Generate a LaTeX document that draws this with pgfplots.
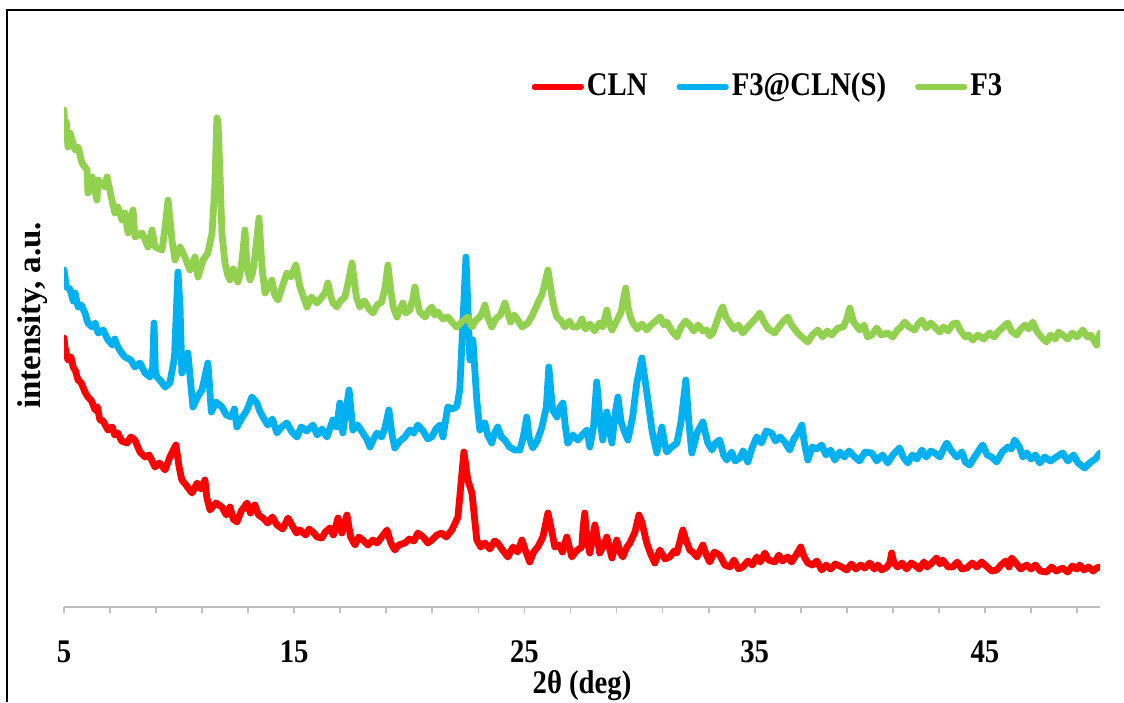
\documentclass[border=0pt]{standalone}
\usepackage{pgfplots}
\usepackage{pgfplotstable}
\pgfplotsset{compat=1.18}
\usepackage{fontspec}
\setmainfont{Liberation Serif}[FakeStretch=0.87]
\newfontfamily\yfont{Liberation Serif}
\definecolor{cln}{HTML}{FF0000}
\definecolor{f3cln}{HTML}{00B0F0}
\definecolor{f3}{HTML}{92D050}
\definecolor{axgray}{HTML}{BFBFBF}

\pgfplotstableread{
x y
5.00 269
5.04 260
5.17 247
5.30 250
5.40 240
5.50 236
5.61 227
5.75 224
5.91 215
6.04 210
6.20 206
6.35 197
6.45 200
6.56 187
6.70 186
6.91 177
7.10 180
7.20 172
7.34 174
7.50 166
7.74 164
7.90 170
8.08 167
8.30 155
8.52 150
8.70 152
8.95 140
9.15 144
9.39 137
9.60 150
9.86 162
10.00 140
10.12 127
10.30 122
10.56 114
10.78 124
10.95 118
11.12 127
11.20 110
11.34 97
11.60 104
11.86 100
12.05 92
12.21 100
12.35 88
12.51 85
12.70 96
12.95 104
13.10 94
13.29 102
13.45 92
13.64 89
13.85 84
14.05 90
14.25 82
14.50 78
14.73 89
14.95 80
15.10 74
15.25 77
15.50 72
15.65 78
15.81 75
16.00 70
16.20 69
16.35 75
16.55 79
16.70 72
16.90 89
17.07 74
17.29 92
17.45 70
17.64 62
17.80 70
17.98 67
18.20 62
18.42 67
18.60 64
18.80 70
19.03 77
19.20 64
19.37 57
19.55 62
19.81 64
20.00 68
20.20 66
20.37 74
20.60 70
20.80 64
20.98 67
21.20 72
21.41 74
21.60 70
21.85 77
22.11 90
22.37 155
22.54 127
22.72 114
22.93 67
23.10 60
23.28 64
23.50 58
23.70 66
23.84 64
24.05 57
24.28 50
24.50 60
24.70 55
24.89 67
25.05 56
25.23 45
25.40 55
25.58 60
25.80 70
26.02 94
26.15 80
26.32 60
26.50 62
26.65 55
26.84 70
27.06 50
27.25 56
27.49 60
27.55 80
27.62 94
27.70 70
27.84 54
28.06 82
28.27 54
28.45 62
28.58 70
28.80 49
29.01 67
29.15 55
29.27 50
29.45 60
29.58 64
29.80 75
29.97 92
30.10 85
30.31 64
30.50 52
30.66 44
30.88 57
31.10 48
31.31 50
31.50 56
31.62 54
31.88 77
32.00 68
32.18 57
32.35 54
32.49 50
32.75 62
32.90 52
33.05 45
33.25 55
33.48 52
33.70 42
33.92 40
34.10 47
34.30 38
34.48 40
34.70 46
34.90 42
35.09 50
35.25 45
35.44 54
35.60 47
35.87 45
36.05 52
36.20 46
36.44 50
36.60 45
36.80 52
37.00 60
37.15 50
37.31 44
37.50 42
37.70 46
37.91 37
38.10 42
38.30 38
38.50 43
38.78 40
39.00 37
39.20 43
39.40 38
39.60 42
39.78 39
40.00 44
40.20 38
40.35 42
40.52 37
40.75 40
40.88 45
40.95 54
41.05 44
41.21 40
41.40 44
41.60 38
41.80 44
41.95 42
42.15 38
42.35 45
42.50 40
42.69 44
42.90 49
43.05 43
43.17 47
43.40 40
43.60 40
43.80 45
44.00 38
44.21 39
44.45 44
44.65 40
44.86 45
45.05 41
45.30 36
45.51 37
45.70 42
45.90 46
46.05 40
46.16 49
46.35 44
46.55 38
46.82 42
47.00 38
47.20 42
47.40 36
47.68 35
47.90 40
48.10 36
48.38 39
48.60 35
48.80 41
49.00 38
49.12 42
49.30 37
49.50 40
49.70 36
49.85 39
50.00 40
}\datacln

\pgfplotstableread{
x y
5.00 337
5.10 320
5.26 318
5.40 306
5.48 314
5.61 300
5.75 302
5.91 294
6.04 284
6.22 280
6.35 284
6.48 274
6.70 277
6.91 267
7.10 262
7.20 268
7.34 260
7.50 254
7.65 250
7.90 247
8.08 240
8.30 244
8.52 234
8.73 230
8.85 240
8.91 284
8.97 235
9.04 230
9.20 226
9.39 220
9.60 224
9.80 250
9.95 335
10.04 300
10.12 234
10.25 240
10.38 254
10.60 200
10.80 210
10.99 217
11.25 244
11.40 195
11.60 205
11.86 200
12.05 192
12.29 190
12.40 198
12.51 180
12.70 188
12.95 197
13.16 210
13.38 204
13.50 196
13.64 190
13.85 182
14.05 188
14.25 174
14.45 180
14.68 184
14.90 175
15.12 170
15.30 180
15.55 176
15.81 182
16.00 172
16.20 178
16.42 170
16.68 187
16.85 180
16.98 204
17.11 174
17.38 217
17.55 177
17.75 182
17.98 174
18.15 168
18.29 160
18.45 168
18.59 174
18.80 170
18.95 180
19.11 197
19.25 172
19.37 159
19.55 165
19.80 170
20.02 177
20.20 174
20.37 182
20.60 176
20.80 168
20.98 170
21.15 178
21.33 182
21.46 170
21.67 200
21.85 198
22.06 200
22.19 217
22.46 350
22.63 247
22.76 267
22.93 207
23.06 177
23.28 184
23.40 172
23.58 164
23.70 174
23.84 180
24.00 170
24.15 167
24.35 160
24.58 157
24.80 157
24.95 170
25.10 190
25.20 170
25.36 159
25.55 166
25.76 180
25.95 200
26.06 240
26.15 215
26.23 197
26.41 190
26.55 200
26.67 204
26.78 180
26.88 164
27.10 172
27.32 167
27.50 172
27.71 177
27.84 160
28.00 180
28.14 225
28.27 190
28.40 167
28.58 195
28.70 175
28.80 164
28.95 195
29.06 210
29.20 185
29.35 175
29.49 167
29.70 190
29.88 224
30.10 249
30.25 225
30.36 207
30.55 175
30.75 154
30.88 170
30.97 180
31.08 165
31.18 155
31.40 160
31.62 164
31.80 185
32.01 227
32.12 190
32.27 154
32.40 165
32.49 174
32.75 185
32.95 165
33.14 157
33.30 164
33.48 167
33.65 152
33.79 147
34.00 155
34.15 146
34.35 149
34.50 156
34.70 145
34.90 160
35.09 170
35.30 164
35.50 176
35.74 174
35.90 166
36.10 170
36.31 165
36.52 157
36.70 168
36.90 175
37.05 182
37.15 165
37.31 147
37.50 160
37.70 158
37.91 162
38.10 152
38.30 157
38.48 147
38.70 155
38.90 150
39.10 156
39.35 150
39.55 146
39.80 155
40.09 154
40.30 146
40.55 152
40.78 144
41.00 152
41.30 159
41.45 150
41.65 144
41.85 152
42.05 148
42.26 157
42.45 150
42.65 156
42.82 154
43.05 150
43.20 158
43.34 164
43.55 156
43.78 150
44.00 155
44.15 145
44.34 142
44.55 150
44.75 157
44.90 162
45.10 152
45.30 150
45.51 145
45.75 155
46.00 160
46.15 158
46.29 167
46.50 160
46.65 150
46.82 154
47.00 148
47.20 152
47.38 144
47.60 150
47.85 146
48.10 150
48.38 154
48.60 146
48.85 152
49.05 144
49.33 139
49.60 145
49.80 148
50.00 154
}\datafcln

\pgfplotstableread{
x y
5.00 497
5.04 470
5.10 485
5.17 460
5.26 474
5.48 457
5.61 460
5.78 444
6.00 437
6.04 414
6.22 430
6.43 407
6.48 427
6.78 420
6.87 430
7.08 407
7.21 394
7.34 400
7.52 387
7.65 394
7.78 374
8.00 397
8.08 370
8.39 374
8.65 360
8.82 377
8.95 360
9.26 357
9.39 380
9.52 407
9.69 367
9.82 347
10.04 360
10.25 350
10.47 337
10.69 350
10.82 330
11.04 347
11.25 354
11.43 374
11.55 420
11.64 489
11.69 485
11.78 430
11.86 374
11.99 344
12.10 333
12.21 327
12.35 338
12.43 335
12.55 325
12.64 332
12.75 350
12.86 377
12.95 340
13.08 327
13.20 335
13.29 350
13.47 389
13.60 340
13.73 314
13.90 320
14.03 327
14.15 312
14.29 307
14.45 318
14.68 334
14.85 330
15.07 342
15.25 320
15.40 310
15.55 300
15.75 310
15.99 304
16.20 310
16.35 315
16.46 324
16.60 310
16.68 304
16.85 300
17.00 306
17.20 310
17.35 325
17.51 344
17.70 310
17.85 300
18.05 306
18.25 298
18.42 294
18.60 302
18.80 305
18.95 320
19.07 342
19.20 315
19.30 300
19.46 290
19.60 298
19.72 304
19.85 294
20.02 297
20.15 308
20.24 320
20.35 305
20.45 295
20.68 290
20.85 297
20.98 300
21.10 292
21.24 295
21.45 288
21.67 290
21.85 285
22.06 280
22.28 285
22.54 290
22.72 280
22.90 287
23.06 290
23.18 295
23.28 302
23.40 290
23.58 280
23.75 288
23.95 292
24.15 304
24.30 292
24.40 285
24.55 292
24.71 287
24.90 280
25.15 284
25.35 292
25.58 304
25.75 312
25.85 320
26.02 337
26.10 325
26.20 310
26.30 298
26.41 290
26.60 286
26.75 280
26.95 286
27.10 280
27.32 280
27.50 288
27.65 278
27.84 283
28.05 276
28.25 284
28.40 280
28.50 290
28.58 297
28.68 284
28.80 277
29.00 286
29.20 295
29.30 308
29.40 319
29.50 300
29.60 290
29.71 284
29.90 278
30.10 283
30.31 277
30.50 282
30.70 286
30.90 290
31.05 282
31.18 285
31.40 276
31.62 270
31.80 280
32.00 286
32.18 282
32.35 276
32.55 282
32.75 276
32.92 277
33.05 271
33.18 274
33.35 285
33.50 295
33.61 300
33.75 290
33.92 284
34.10 278
34.30 282
34.48 274
34.70 280
34.90 285
35.10 290
35.22 294
35.40 285
35.60 278
35.87 274
36.05 280
36.25 286
36.44 290
36.60 282
36.87 274
37.05 270
37.31 265
37.50 272
37.74 277
37.95 270
38.15 276
38.35 272
38.61 279
38.85 280
39.00 288
39.13 299
39.30 285
39.56 277
39.75 282
39.90 270
40.09 272
40.30 279
40.50 272
40.78 274
41.00 270
41.20 277
41.35 280
41.52 285
41.70 280
41.95 277
42.10 283
42.26 287
42.45 279
42.65 284
42.82 280
43.04 275
43.20 280
43.40 276
43.60 283
43.78 284
43.95 276
44.15 270
44.30 272
44.47 267
44.70 272
44.95 268
45.21 274
45.40 270
45.60 276
45.80 280
45.99 284
46.15 276
46.38 272
46.55 278
46.75 282
46.90 278
47.08 285
47.25 276
47.45 270
47.68 265
47.85 272
48.05 268
48.20 275
48.38 272
48.60 268
48.80 274
49.00 270
49.25 277
49.45 270
49.60 272
49.75 266
49.85 262
50.00 274
}\dataf

\begin{document}
\fontsize{16.5}{20}\selectfont\bfseries
\begin{tikzpicture}
\path[use as bounding box] (0,0) rectangle (562pt,351pt);
\draw[line width=1pt] (3.5pt,0) -- (3.5pt,346pt) -- (562pt,346pt);
\begin{axis}[
  at={(32pt,47.5pt)}, anchor=south west,
  scale only axis, width=518pt, height=293.5pt,
  xmin=5, xmax=50, ymin=0, ymax=587,
  axis x line*=bottom, axis y line*=left,
  y axis line style={draw=none},
  x axis line style={axgray, line width=0.9pt},
  ytick=\empty,
  xtick={5,15,25,35,45}, xticklabels={5,15,25,35,45},
  minor xtick={7,9,11,13,17,19,21,23,27,29,31,33,37,39,41,43,47,49},
  tick align=outside,
  major tick length=3pt, minor tick length=3pt,
  tick style={axgray, line width=0.9pt},
  xticklabel style={yshift=-8pt},
  xlabel={2θ (deg)},
  xlabel style={at={(axis description cs:0.5,-0.1346)}, anchor=center},
  ylabel={\yfont intensity, a.u.},
  ylabel style={at={(axis description cs:-0.030,0.497)}, anchor=center},
  no markers,
  every axis plot/.append style={line width=3.4pt, line join=round, line cap=round},
  legend image code/.code={\draw[#1, line width=2.6pt] (0pt,0pt) -- (23.5pt,0pt);},
  legend style={at={(axis description cs:0.68,0.886)}, anchor=center, draw=none, fill=none,
    legend columns=3, /tikz/every even column/.append style={column sep=13pt},
    nodes={inner sep=1.5pt}},
]
\addplot[cln] table {\datacln};
\addlegendentry{CLN}
\addplot[f3cln] table {\datafcln};
\addlegendentry{F3@CLN(S)}
\addplot[f3] table {\dataf};
\addlegendentry{F3}
\end{axis}
\end{tikzpicture}
\end{document}
